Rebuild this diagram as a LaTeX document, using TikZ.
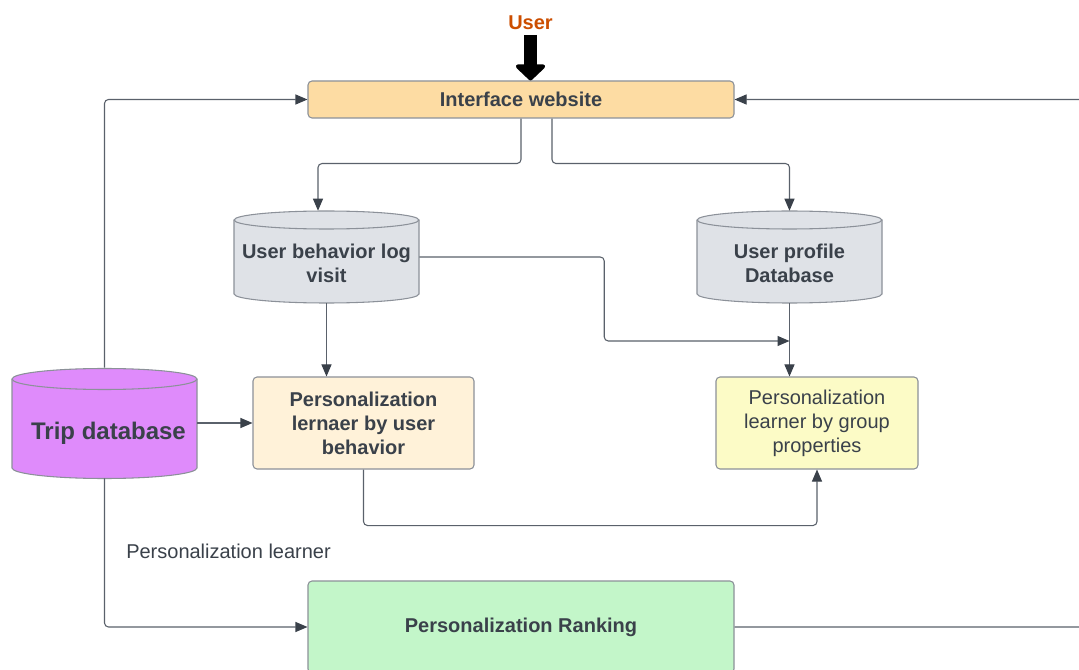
\documentclass[tikz,border=0pt]{standalone}
\usepackage{fontspec}
\setmainfont{Liberation Sans}
\usetikzlibrary{arrows.meta}

\definecolor{ink}{HTML}{3A414A}
\definecolor{wire}{HTML}{5A616B}
\definecolor{edge}{HTML}{8C9199}
\definecolor{ifcfill}{HTML}{FDDCA3}
\definecolor{lrnfill}{HTML}{FFF2D9}
\definecolor{grpfill}{HTML}{FCFBC6}
\definecolor{rankfill}{HTML}{C3F6C9}
\definecolor{drumgray}{HTML}{DFE2E7}
\definecolor{tripfill}{HTML}{DF8BFB}
\definecolor{userorange}{HTML}{CC4E00}

% database drum: #1 centre x, #2 top ellipse y, #3 bottom ellipse y,
% #4 x radius, #5 y radius, #6 fill colour
\newcommand{\drum}[6]{%
  \filldraw[drumline, fill=#6]
    ([xshift=-#4]#1,#2) -- ([xshift=-#4]#1,#3)
    arc[start angle=180, end angle=360, x radius=#4, y radius=#5]
    -- ([xshift=#4]#1,#2)
    arc[start angle=0, end angle=180, x radius=#4, y radius=#5] -- cycle;
  \draw[drumline] ([xshift=-#4]#1,#2)
    arc[start angle=180, end angle=360, x radius=#4, y radius=#5];
}

\begin{document}
\begin{tikzpicture}[x=0.75pt, y=-0.75pt,
  basefont/.style={font=\fontsize{15}{18}\selectfont},
  boldfont/.style={font=\bfseries\fontsize{15}{18}\selectfont},
  box/.style={draw=edge, line width=0.8pt, rounded corners=3pt, text=ink,
    align=center, inner sep=0pt},
  drumline/.style={draw=edge, line width=0.8pt},
  drumnode/.style={inner sep=0pt, minimum width=138.75pt},
  drumtext/.style={text=ink, align=center, boldfont},
  conn/.style={draw=wire, line width=0.8pt, rounded corners=3pt,
    -{Triangle[length=9pt, width=7.5pt, color=ink]}},
  bigarrow/.style={draw=black, line width=9.5pt,
    -{Triangle[length=12.75pt, width=26pt, round]}}
]
\clip (0,0) rectangle (1079,670);
\fill[white] (0,0) rectangle (1079,670);

% database drums
\drum{326.5}{220}{294}{69.375pt}{6.75pt}{drumgray}
\drum{789.5}{220}{294}{69.375pt}{6.75pt}{drumgray}
\drum{104.5}{379}{468}{69.375pt}{7.875pt}{tripfill}

\node[drumnode, minimum height=69pt,
  label={[drumtext, yshift=-4.5pt]center:{User behavior log\\visit}}]
  (ubl) at (326.5,257) {};
\node[drumnode, minimum height=69pt,
  label={[drumtext, yshift=-4.5pt]center:{User profile\\Database}}]
  (upd) at (789.5,257) {};
\node[drumnode, minimum height=82.5pt,
  label={[text=ink, font=\bfseries\fontsize{18}{21}\selectfont,
          xshift=3pt, yshift=-8pt]center:{Trip database}}]
  (trip) at (104.5,423) {};

% process boxes
\node[box, boldfont, fill=ifcfill, minimum width=319.5pt, minimum height=27.75pt]
  (iface) at (521,99.5) {Interface website};
\node[box, boldfont, fill=lrnfill, minimum width=165.75pt, minimum height=69pt]
  (lrn) at (363.5,423) {Personalization\\lernaer by user\\behavior};
\node[box, basefont, fill=grpfill, minimum width=151.5pt, minimum height=69pt]
  (grp) at (817,423) {Personalization\\learner by group\\properties};
\node[box, boldfont, fill=rankfill, minimum width=319.5pt, minimum height=69pt]
  (rank) at (521,627) {Personalization Ranking};

% user entry
\node[text=userorange, boldfont, inner sep=1pt] (user) at (530.5,23) {User};
\draw[bigarrow] ([yshift=-2.5pt]user.south) -- (user.south |- iface.north);

\node[text=ink, basefont, anchor=west, inner sep=0pt] (note) at (126,551)
  {Personalization learner};

% connectors
\coordinate (join) at (789.5,341);
\draw[conn] (iface.south) -- ++(0,45) -| ([xshift=-6.375pt]ubl.north);
\draw[conn] ([xshift=23.25pt]iface.south) -- ++(0,45) -| (upd.north);
\draw[conn] (ubl.east) -- ++(185,0) |- (join);
\draw[conn] (upd.south) -- (upd.south |- grp.north);
\draw[conn] (ubl.south) -- (ubl.south |- lrn.north);
\draw[conn] (trip.east) -- (lrn.west);
\draw[conn] (trip.north) |- (iface.west);
\draw[conn] (trip.south) |- (rank.west);
\draw[conn] (lrn.south) -- ++(0,56) -| (grp.south);
\draw[conn] (rank.east) -- ++(360,0) |- (iface.east);
\end{tikzpicture}
\end{document}
